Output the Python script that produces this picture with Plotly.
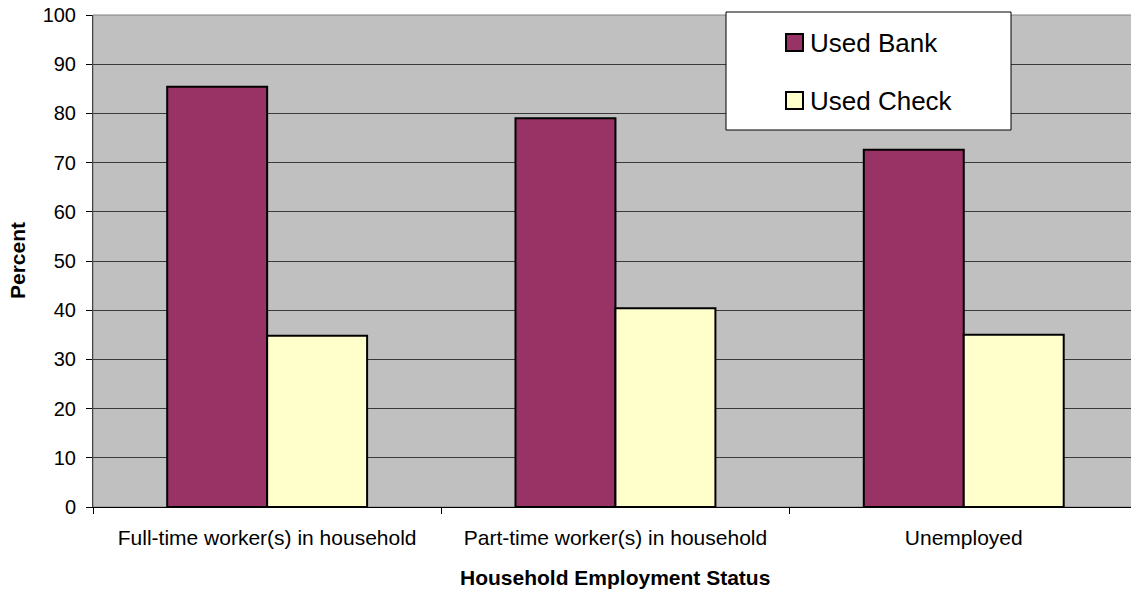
import plotly.graph_objects as go

# Share of households using each service, by employment status
categories = [
    "Full-time worker(s) in household",
    "Part-time worker(s) in household",
    "Unemployed",
]
series_names = ["Used Bank", "Used Check"]
used_bank = [85.4, 79.0, 72.6]
used_check = [34.8, 40.4, 35.0]
y_ticks = list(range(0, 101, 10))

W, H = 1131, 590
ML, MT, MB = 93, 15, 83
plot_w = W - ML
plot_h = H - MT - MB
cat_px = 348.3  # width of one category slot in pixels

FONT = "Arial, Liberation Sans, sans-serif"
BANK_COLOR = "#993366"
CHECK_COLOR = "#FFFFCC"


def px_x(p):
    return (p - ML) / plot_w


def px_y(p):
    return (H - MB - p) / plot_h


fig = go.Figure()
fig.add_trace(go.Bar(
    x=categories, y=used_bank, name=series_names[0],
    marker=dict(color=BANK_COLOR, line=dict(color="#000000", width=2)),
))
fig.add_trace(go.Bar(
    x=categories, y=used_check, name=series_names[1],
    marker=dict(color=CHECK_COLOR, line=dict(color="#000000", width=2)),
))

shapes = [
    # plot area frame (top edge visible in gray)
    dict(type="rect", xref="paper", yref="paper", x0=0, x1=1.01, y0=0, y1=1,
         line=dict(color="#808080", width=1), layer="below"),
    # legend box
    dict(type="rect", xref="paper", yref="paper",
         x0=px_x(726), x1=px_x(1011), y0=px_y(12), y1=px_y(130),
         fillcolor="#FFFFFF", line=dict(color="#000000", width=1), layer="above"),
    dict(type="rect", xref="paper", yref="paper",
         x0=px_x(786), x1=px_x(803), y0=px_y(34), y1=px_y(51),
         fillcolor=BANK_COLOR, line=dict(color="#000000", width=2), layer="above"),
    dict(type="rect", xref="paper", yref="paper",
         x0=px_x(786), x1=px_x(803), y0=px_y(92), y1=px_y(109),
         fillcolor=CHECK_COLOR, line=dict(color="#000000", width=2), layer="above"),
]

annotations = [
    dict(text=series_names[0], xref="paper", yref="paper", x=px_x(808), y=px_y(43),
         xanchor="left", yanchor="middle", showarrow=False,
         font=dict(family=FONT, size=26, color="#000000")),
    dict(text=series_names[1], xref="paper", yref="paper", x=px_x(808), y=px_y(101),
         xanchor="left", yanchor="middle", showarrow=False,
         font=dict(family=FONT, size=26, color="#000000")),
    dict(text="<b>Household Employment Status</b>", xref="paper", yref="paper",
         x=px_x(615), y=px_y(577), xanchor="center", yanchor="middle", showarrow=False,
         font=dict(family=FONT, size=21, color="#000000")),
    dict(text="<b>Percent</b>", xref="paper", yref="paper",
         x=px_x(17), y=0.5, xanchor="center", yanchor="middle", showarrow=False,
         textangle=-90, font=dict(family=FONT, size=21, color="#000000")),
]

fig.update_layout(
    width=W, height=H,
    margin=dict(l=ML, r=0, t=MT, b=MB, pad=0),
    paper_bgcolor="#FFFFFF",
    plot_bgcolor="#C0C0C0",
    barmode="group",
    bargap=0.426,
    bargroupgap=0,
    showlegend=False,
    shapes=shapes,
    annotations=annotations,
    font=dict(family=FONT, color="#000000"),
)

fig.update_xaxes(
    type="category",
    range=[-0.5, -0.5 + plot_w / cat_px],
    tickson="boundaries",
    ticks="outside", ticklen=6, tickcolor="#000000", tickwidth=1,
    showline=True, linecolor="#000000", linewidth=1,
    showgrid=False, zeroline=False,
    tickfont=dict(family=FONT, size=21, color="#000000"),
    ticklabelstandoff=12,
)

fig.update_yaxes(
    range=[0, 100],
    tickvals=y_ticks,
    ticks="outside", ticklen=6, tickcolor="#000000", tickwidth=1,
    showline=True, linecolor="#404040", linewidth=1,
    showgrid=True, gridcolor="#3a3a3a", gridwidth=1,
    zeroline=False,
    tickfont=dict(family=FONT, size=20, color="#000000"),
    ticklabelstandoff=6,
)

fig.write_html("out.html")
